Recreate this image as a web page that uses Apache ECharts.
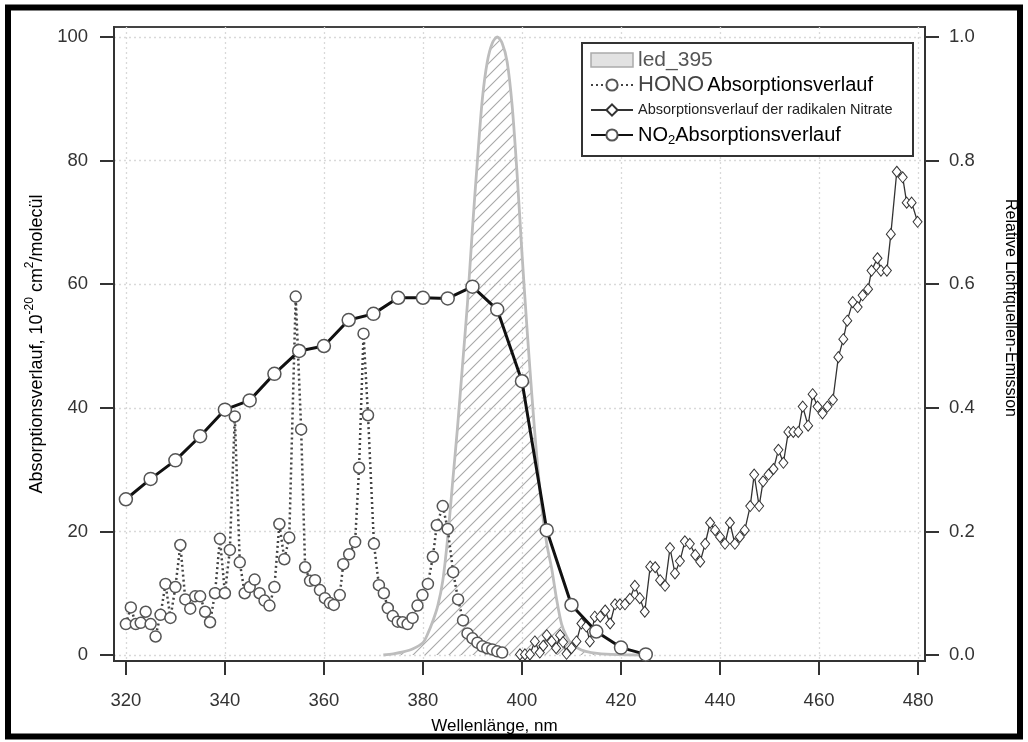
<!DOCTYPE html>
<html><head><meta charset="utf-8">
<script src="https://cdn.jsdelivr.net/npm/echarts@6/dist/echarts.min.js"></script>
<style>html,body{margin:0;padding:0;background:#fff}#c{width:1028px;height:742px}</style>
</head><body><div id="c"></div>
<script>
const xTicks = [320, 340, 360, 380, 400, 420, 440, 460, 480];
const yLeftTicks = [0, 20, 40, 60, 80, 100];
const yRightTicks = [0, 0.2, 0.4, 0.6, 0.8, 1.0];

const ledData = [[372,0],[374,0.002],[376,0.005],[378,0.01],[380,0.02],[381,0.035],[382,0.055],[383,0.08],[384,0.12],[385,0.19],[386,0.28],[387,0.37],[388,0.47],[389,0.57],[390,0.69],[391,0.80],[392,0.90],[393,0.96],[394,0.99],[395,1.0],[396,0.99],[397,0.96],[398,0.89],[399,0.78],[400,0.65],[401,0.53],[402,0.42],[403,0.32],[404,0.24],[405,0.18],[406,0.14],[407,0.09],[408,0.05],[409,0.03],[410,0.018],[412,0.008],[414,0.004],[418,0.001],[426,0]];

const honoData = [[320,5],[321,7.7],[322,5],[323,5.2],[324,7],[325,5],[326,3],[327,6.5],[328,11.5],[329,6],[330,11],[331,17.8],[332,9],[333,7.5],[334,9.5],[335,9.5],[336,7],[337,5.3],[338,10],[339,18.8],[340,10],[341,17],[342,38.6],[343,15],[344,10],[345,11],[346,12.2],[347,10],[348,8.8],[349,8],[350,11],[351,21.2],[352,15.5],[353,19],[354.3,58],[355.4,36.5],[356.2,14.2],[357.2,12],[358.2,12.1],[359.2,10.5],[360.2,9.2],[361.2,8.4],[362,8.1],[363.2,9.7],[363.9,14.7],[365.1,16.3],[366.3,18.3],[367.1,30.3],[368,52],[368.9,38.8],[370.1,18],[371.1,11.3],[372.1,10],[372.9,7.6],[373.9,6.3],[374.9,5.4],[375.9,5.3],[376.9,5],[377.9,6],[378.9,8],[379.9,9.7],[381,11.5],[382,15.9],[382.8,21],[384,24.1],[385,20.4],[386.1,13.4],[387.1,9],[388.1,5.6],[389,3.5],[390,2.7],[391,2],[392,1.4],[393,1.1],[394,0.9],[395,0.6],[396,0.4]];

const nitrateData = [[399.6,0.1],[400.6,0.1],[401.6,0.1],[402.6,2.2],[403.6,0.4],[404.3,1.5],[405,3.2],[406,2.2],[406.9,1.1],[407.7,3.2],[408.3,2.1],[409,0.2],[410,1.1],[411,2.2],[412,5.1],[413,4.6],[413.7,2.2],[414.7,6.2],[415.8,6.2],[416.8,7.2],[417.8,5.1],[418.8,8.2],[419.8,8.2],[420.8,8.2],[421.8,9.1],[422.8,11.2],[423.8,9.2],[424.8,7],[425.9,14.3],[426.9,14.2],[427.9,12.1],[428.9,11.2],[429.9,17.3],[430.9,13.2],[431.9,15.2],[432.9,18.4],[433.9,18],[435,16.2],[436,15.1],[437,18],[438,21.4],[439,20.2],[440,19.1],[441,18],[442,21.4],[443,18],[444,19.1],[445,20.2],[446.1,24.1],[446.9,29.2],[447.9,24.1],[448.7,28.1],[449.8,29.2],[450.8,30.1],[451.8,33.2],[452.8,31.1],[453.8,36.1],[454.8,36.1],[455.8,36.1],[456.7,40.2],[457.8,37.1],[458.7,42.2],[459.7,40.2],[460.7,39.1],[461.7,40.2],[462.8,41.3],[463.9,48.2],[464.9,51.1],[465.7,54.1],[466.8,57.1],[467.8,56.3],[468.8,58.2],[469.9,59.2],[470.6,62.2],[471.8,64.2],[472.5,62.2],[473.7,62.2],[474.5,68.1],[475.7,78.2],[476.9,77.3],[477.7,73.2],[478.7,73.2],[479.9,70.1]];

const no2Data = [[320,25.2],[325,28.5],[330,31.5],[335,35.4],[340,39.7],[345,41.2],[350,45.5],[355,49.2],[360,50],[365,54.2],[370,55.2],[375,57.8],[380,57.8],[385,57.7],[390,59.6],[395,55.9],[400,44.3],[405,20.2],[410,8.1],[415,3.8],[420,1.2],[425,0.1]];

const seriesNames = ['led_395', 'HONO Absorptionsverlauf', 'Absorptionsverlauf der radikalen Nitrate', 'NO2Absorptionsverlauf'];

// hatch pattern
const T = 12;
const pat = document.createElement('canvas');
pat.width = T; pat.height = T;
const pc = pat.getContext('2d');
pc.strokeStyle = '#a8a8a8'; pc.lineWidth = 1.1;
pc.beginPath();
pc.moveTo(0, T); pc.lineTo(T, 0);
pc.moveTo(-T / 2, T / 2); pc.lineTo(T / 2, -T / 2);
pc.moveTo(T / 2, T * 1.5); pc.lineTo(T * 1.5, T / 2);
pc.stroke();

const chart = echarts.init(document.getElementById('c'), null, {renderer: 'canvas'});
const axisCol = '#333';
const FF = 'Liberation Sans';
const gridLine = {show: true, lineStyle: {color: '#d9d9d9', type: [2, 3], width: 1.3}};

chart.setOption({
  backgroundColor: '#fff',
  animation: false,
  grid: {left: 114, right: 103, top: 27, bottom: 81, show: true, borderColor: '#444', borderWidth: 2, backgroundColor: 'transparent'},
  graphic: [
    {type: 'rect', shape: {x: 8, y: 7.5, width: 1012, height: 729}, style: {fill: 'none', stroke: '#000', lineWidth: 6}, silent: true},
    {type: 'rect', shape: {x: 582, y: 43, width: 331, height: 113}, style: {fill: '#fff', stroke: '#333', lineWidth: 2}, z: 5, silent: true}
  ],
  legend: {
    orient: 'vertical', left: 585, top: 43, z: 10,
    itemWidth: 42, itemHeight: 14, itemGap: 1,
    data: [
      {name: seriesNames[0], icon: 'rect', itemStyle: {color: '#e2e2e2', borderColor: '#aaa', borderWidth: 1.5}},
      seriesNames[1], seriesNames[2], seriesNames[3]
    ],
    formatter: function (n) {
      if (n === seriesNames[0]) return '{g|led_395}';
      if (n === seriesNames[1]) return '{h|HONO} {n|Absorptionsverlauf}';
      if (n === seriesNames[2]) return '{s|Absorptionsverlauf der radikalen Nitrate}';
      return '{n|NO}{sub|2}{n|Absorptionsverlauf}';
    },
    textStyle: {
      fontFamily: FF,
      rich: {
        g: {fontSize: 21, color: '#555', lineHeight: 24, height: 24, fontFamily: FF},
        h: {fontSize: 22, color: '#444', lineHeight: 24, height: 24, fontFamily: FF},
        n: {fontSize: 20, color: '#000', lineHeight: 24, height: 24, fontFamily: FF},
        s: {fontSize: 14.5, color: '#222', lineHeight: 24, height: 24, fontFamily: FF},
        sub: {fontSize: 13, color: '#000', lineHeight: 24, verticalAlign: 'bottom', fontFamily: FF}
      }
    }
  },
  xAxis: {
    type: 'value', min: 317.6, max: 481.4,
    axisLine: {show: true, onZero: false, lineStyle: {color: axisCol, width: 2}},
    axisTick: {show: true, length: 14, customValues: xTicks, lineStyle: {color: axisCol, width: 2}},
    axisLabel: {customValues: xTicks, margin: 30, fontSize: 18.5, color: '#333', fontFamily: FF},
    splitLine: gridLine,
    name: 'Wellenlänge, nm', nameLocation: 'middle', nameGap: 57,
    nameTextStyle: {fontSize: 17, color: '#000', fontFamily: FF, padding: [0, 50, 0, 0]}
  },
  yAxis: [
    {
      type: 'value', min: -0.97, max: 101.62, position: 'left',
      axisLine: {show: true, onZero: false, lineStyle: {color: axisCol, width: 2}},
      axisTick: {show: true, length: 14, customValues: yLeftTicks, lineStyle: {color: axisCol, width: 2}},
      axisLabel: {customValues: yLeftTicks, margin: 26, fontSize: 18.5, color: '#333', fontFamily: FF},
      splitLine: gridLine,
      name: '{m|Absorptionsverlauf, 10}{sup|-20}{m| cm}{sup|2}{m|/molecül}',
      nameLocation: 'middle', nameRotate: 90, nameGap: 68,
      nameTextStyle: {
        rich: {
          m: {fontSize: 18, color: '#000', fontFamily: FF, lineHeight: 22, verticalAlign: 'bottom'},
          sup: {fontSize: 12, color: '#000', fontFamily: FF, lineHeight: 22, verticalAlign: 'top'}
        }
      }
    },
    {
      type: 'value', min: -0.0097, max: 1.0162, position: 'right',
      axisLine: {show: true, onZero: false, lineStyle: {color: axisCol, width: 2}},
      axisTick: {show: true, length: 14, customValues: yRightTicks, lineStyle: {color: axisCol, width: 2}},
      axisLabel: {customValues: yRightTicks, margin: 24, fontSize: 18.5, color: '#333', fontFamily: FF, formatter: v => v.toFixed(1)},
      splitLine: {show: false},
      name: 'Relative Lichtquellen-Emission', nameLocation: 'middle', nameRotate: -90, nameGap: 77,
      nameTextStyle: {fontSize: 16, color: '#000', fontFamily: FF, padding: [0, 72, 0, 0]}
    }
  ],
  series: [
    {
      name: seriesNames[0], type: 'line', yAxisIndex: 1, data: ledData, smooth: 0.3,
      showSymbol: false, symbol: 'none',
      lineStyle: {color: '#bdbdbd', width: 2.8},
      itemStyle: {color: '#e2e2e2'},
      areaStyle: {color: {image: pat, repeat: 'repeat'}, opacity: 1},
      z: 1
    },
    {
      name: seriesNames[1], type: 'line', data: honoData,
      symbol: 'circle', symbolSize: 11,
      lineStyle: {color: '#444', width: 2.5, type: [2, 3]},
      itemStyle: {color: '#fff', borderColor: '#555', borderWidth: 1.5},
      z: 3
    },
    {
      name: seriesNames[2], type: 'line', data: nitrateData,
      symbol: 'diamond', symbolSize: [9, 11],
      lineStyle: {color: '#333', width: 1.3},
      itemStyle: {color: '#fff', borderColor: '#333', borderWidth: 1},
      z: 3
    },
    {
      name: seriesNames[3], type: 'line', data: no2Data,
      symbol: 'circle', symbolSize: 13,
      lineStyle: {color: '#111', width: 3},
      itemStyle: {color: '#fff', borderColor: '#555', borderWidth: 1.5},
      z: 4
    }
  ]
});
</script>
</body></html>
